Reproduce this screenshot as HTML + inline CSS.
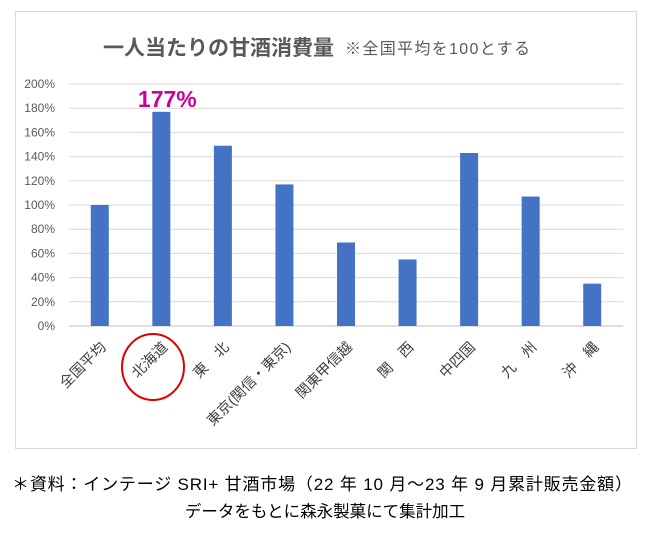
<!DOCTYPE html>
<html><head><meta charset="utf-8"><style>
body{margin:0;background:#fff;width:650px;height:528px;overflow:hidden;font-family:"Liberation Sans","Noto Sans CJK JP",sans-serif}
</style></head><body>
<svg id="c" width="650" height="528" xmlns="http://www.w3.org/2000/svg">
<rect x="15.5" y="11.5" width="621" height="437" fill="#fff" stroke="#d9d9d9"/>
<text x="103" y="55" font-size="21" font-weight="bold" fill="#595959">一人当たりの甘酒消費量</text>
<text x="345" y="54" font-size="16" fill="#595959" textLength="185">※全国平均を100とする</text>
<g id="grid"></g><g id="bars"></g><g id="xl"></g>
<ellipse cx="153" cy="367" rx="31" ry="33" fill="none" stroke="#e00000" stroke-width="2"/>
<text x="12" y="490" font-size="17" textLength="620" fill="#000">＊資料：インテージ SRI+ 甘酒市場（22 年 10 月～23 年 9 月累計販売金額）</text>
<text x="325" y="517" font-size="16.5" text-anchor="middle" fill="#000">データをもとに森永製菓にて集計加工</text>
</svg>
<script>
const categories=["全国平均","北海道","東　北","東京(関信・東京)","関東甲信越","関　西","中四国","九　州","沖　縄"];
const values=[100,177,149,117,69,55,143,107,35];
const yTicks=[0,20,40,60,80,100,120,140,160,180,200];
const X0=69,X1=623,Y0=326,Y1=84,MAX=200;
const bw=(X1-X0)/categories.length;
const y=v=>Y0-(v/MAX)*(Y0-Y1);
const x=i=>X0+bw*(i+0.5);
const NS="http://www.w3.org/2000/svg";
function mk(t,a,p){const e=document.createElementNS(NS,t);for(const k in a)e.setAttribute(k,a[k]);p.appendChild(e);return e;}
const g=document.getElementById('grid'),b=document.getElementById('bars'),xl=document.getElementById('xl');
yTicks.forEach(t=>{
 const l=mk('line',{x1:X0,x2:X1,y1:y(t),y2:y(t),stroke:t===0?'#bfbfbf':'#d9d9d9','stroke-width':1},g);
 
 
 const tx=mk('text',{x:55,y:y(t)+4,'font-size':12,'text-anchor':'end',fill:'#595959'},g);
 tx.textContent=t+'%';
 
 
});
values.forEach((v,i)=>{
 const r=mk('rect',{x:x(i)-9,y:y(v),width:18,height:Y0-y(v),fill:'#4472c4'},b);
 
 
 const t=mk('text',{'font-size':14.5,fill:'#404040','text-anchor':'end',transform:`translate(${x(i)+7},${Y0+22}) rotate(-45)`},xl);
 t.textContent=categories[i];
 
 
});
const hl=mk('text',{x:x(1)+6,y:y(values[1])-5,'font-size':23,'font-weight':'bold',fill:'#cc0099','text-anchor':'middle'},b);
hl.textContent=values[1]+'%';


</script>
</body></html>
